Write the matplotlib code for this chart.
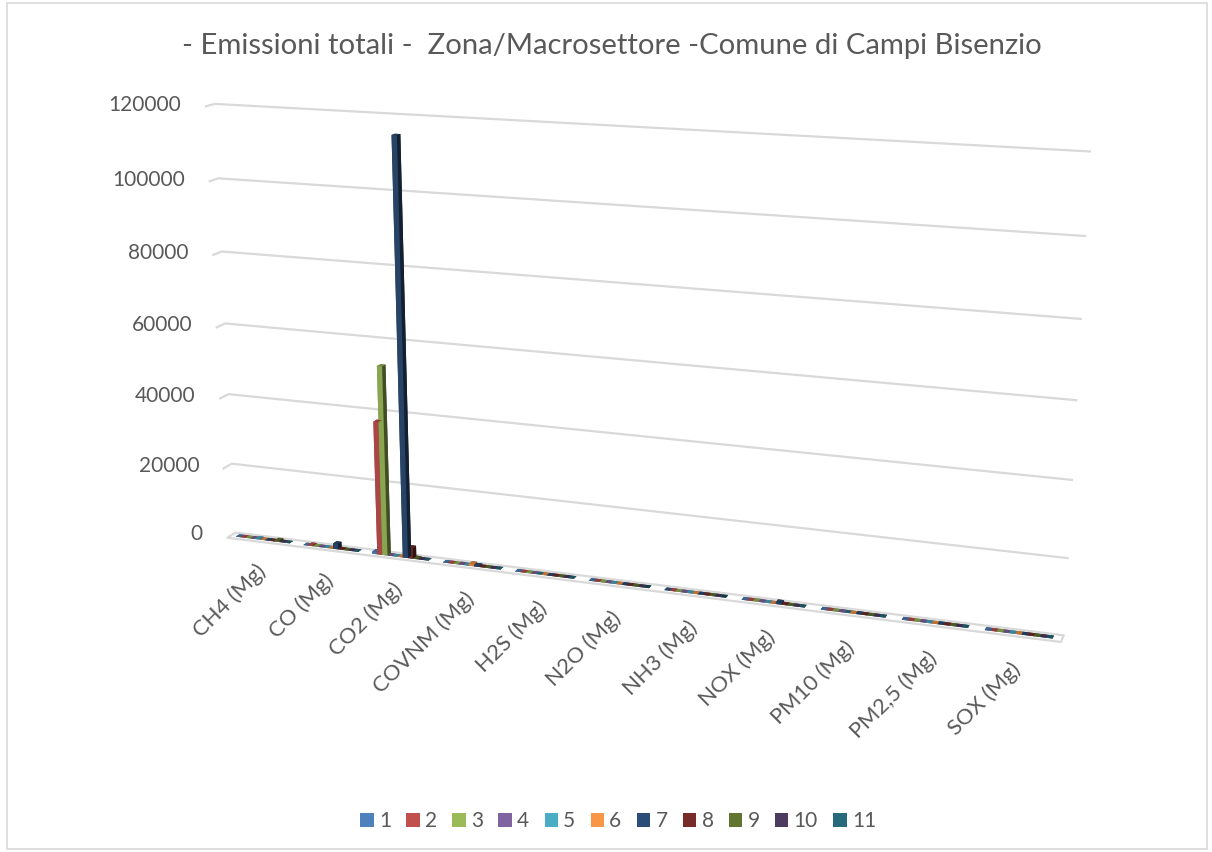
import matplotlib
matplotlib.use('Agg')
import matplotlib.pyplot as plt
from matplotlib.patches import Patch, Rectangle
from mpl_toolkits.mplot3d.art3d import Poly3DCollection
from mpl_toolkits.mplot3d import proj3d
import numpy as np

TITLE = '- Emissioni totali -  Zona/Macrosettore -Comune di Campi Bisenzio'
CATEGORIES = ['CH4 (Mg)', 'CO (Mg)', 'CO2 (Mg)', 'COVNM (Mg)', 'H2S (Mg)', 'N2O (Mg)',
              'NH3 (Mg)', 'NOX (Mg)', 'PM10 (Mg)', 'PM2,5 (Mg)', 'SOX (Mg)']
SERIES = ['1', '2', '3', '4', '5', '6', '7', '8', '9', '10', '11']
COLORS = ['#4F81BD', '#C0504D', '#9BBB59', '#8064A2', '#4BACC6', '#F79646',
          '#2C4D75', '#772C2A', '#5F7530', '#4D3B62', '#276A7C']
YTICKS = [0, 20000, 40000, 60000, 80000, 100000, 120000]

# one list per macrosettore (series), values in Mg per pollutant, same order as CATEGORIES
S1 = [0.5, 2, 600, 0.3, 0, 0.1, 0, 1.5, 0.1, 0.1, 0.1]
S2 = [20, 250, 37500, 30, 0, 1.5, 0.5, 40, 25, 24, 2]
S3 = [3, 40, 53000, 10, 0, 1, 0.2, 60, 3, 2.5, 10]
S4 = [0, 0, 0, 60, 0, 0, 0, 0, 2, 1, 0]
S5 = [150, 0, 0, 25, 0, 0, 0, 0, 0, 0, 0]
S6 = [0, 0, 0, 550, 0, 0, 0, 0, 0, 0, 0]
S7 = [10, 1500, 115000, 250, 0, 4, 10, 500, 30, 25, 1]
S8 = [0.5, 60, 3000, 15, 0, 0.5, 0, 60, 4, 4, 0.5]
S9 = [400, 5, 200, 2, 0, 1, 2, 5, 0.2, 0.2, 0.1]
S10 = [20, 2, 0, 1, 0, 3, 15, 0.5, 1, 0.3, 0]
S11 = [1, 10, 0, 40, 0, 0, 0, 0, 0.5, 0.5, 0]
VALUES = [S1, S2, S3, S4, S5, S6, S7, S8, S9, S10, S11]

TXT = '#595959'
GRID = '#d9d9d9'
plt.rcParams['font.family'] = ['Lato', 'DejaVu Sans']

fig = plt.figure(figsize=(12.12, 8.52), dpi=100)

# square 3d axes (S px) centred on the plot area
S = 1000.0
cx, cy = 606.5, 375.0
ax = fig.add_axes([(cx - S / 2) / 1212, 1 - (cy + S / 2) / 852, S / 1212, S / 852],
                  projection='3d', computed_zorder=False)

n = len(CATEGORIES)
D = 0.22          # floor depth
ZMAX = 120000
ax.set_xlim(-0.5, n - 0.5)
ax.set_ylim(0, D)
ax.set_zlim(0, ZMAX)
ax.set_box_aspect((n, D, 5.75), zoom=0.9875)
ax.view_init(elev=14.9, azim=-70.6)
ax.set_proj_type('persp', focal_length=0.41)
ax.set_axis_off()

# gridlines on the back wall (+ the short bit on the side wall)
for z in YTICKS[1:]:
    ax.plot([-0.5, -0.5, n - 0.5], [0, D, D], [z, z, z], color=GRID, lw=1.6, zorder=1)

# floor
floor = Poly3DCollection([[(-0.5, 0, 0), (n - 0.5, 0, 0), (n - 0.5, D, 0), (-0.5, D, 0)]],
                         facecolor='white', edgecolor=GRID, linewidths=1.6, zorder=2)
ax.add_collection3d(floor)

# clustered 3d columns
group_w = 0.8
bw = group_w / len(SERIES)
bd = 0.1
xs, ys, dzs, cols = [], [], [], []
for s, vals in enumerate(VALUES):
    for i, v in enumerate(vals):
        xs.append(i - group_w / 2 + s * bw)
        ys.append(D / 2 - bd / 2)
        dzs.append(v)
        cols.append(COLORS[s])
ax.bar3d(xs, ys, np.zeros(len(xs)), bw, bd, dzs, color=cols, shade=True, zorder=3)

# labels go in the projected 2d space of the 3d axes (Text3D ignores rotation)
M = ax.get_proj()
for z in YTICKS:
    px, py, _ = proj3d.proj_transform(-0.86, 0, z, M)
    ax.text2D(px, py, str(z), transform=ax.transData, ha='right', va='center',
              fontsize=15, color=TXT, zorder=5)

for i, c in enumerate(CATEGORIES):
    px, py, _ = proj3d.proj_transform(i + 0.01, 0, -7800, M)
    ax.text2D(px, py, c, transform=ax.transData, ha='right', va='center', rotation=45,
              rotation_mode='anchor', fontsize=15.8, color=TXT, zorder=5)

fig.text(0.505, 1 - 46 / 852, TITLE, ha='center', va='center', fontsize=21.05, color=TXT)

handles = [Patch(facecolor=c, edgecolor='none') for c in COLORS]
fig.legend(handles, SERIES, loc='center', bbox_to_anchor=(0.51, 1 - 821 / 852), ncol=len(SERIES),
           frameon=False, fontsize=15, handlelength=0.65, handleheight=0.65,
           handletextpad=0.25, columnspacing=0.73, labelcolor=TXT)

fig.add_artist(Rectangle((0.006, 0.003), 0.99, 0.993, transform=fig.transFigure,
                         fill=False, edgecolor=GRID, lw=1.2))

fig.savefig('out.png', dpi=100)
